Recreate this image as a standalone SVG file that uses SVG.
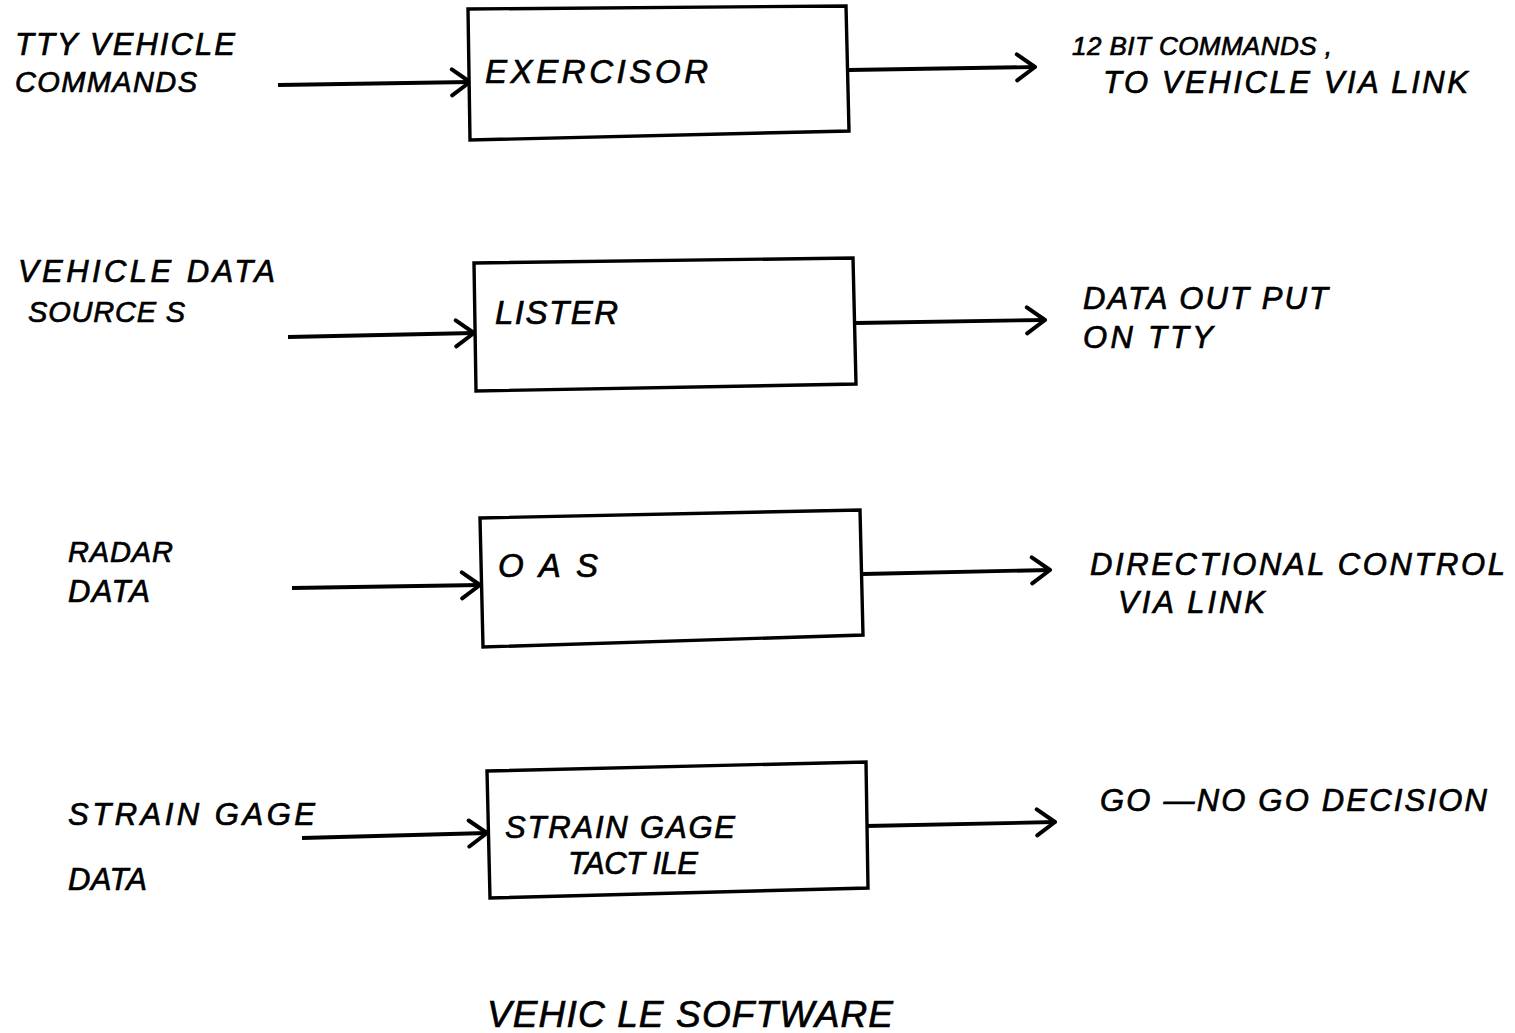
<svg xmlns="http://www.w3.org/2000/svg" width="1515" height="1033" viewBox="0 0 1515 1033">
<style>
text{font-family:"Liberation Sans",Arial,sans-serif;font-style:italic;font-size:31px;fill:#000;stroke:#000;stroke-width:0.7}
.box{fill:#fff;stroke:#000;stroke-width:3.4}
.ln{fill:none;stroke:#000;stroke-width:3.8;marker-end:url(#ah)}
.big{font-size:33px}
.title{font-size:37px}
.sm{font-size:26px}
.cmp{font-size:29px}
</style>
<defs>
<marker id="ah" markerUnits="userSpaceOnUse" viewBox="0 0 24 32" markerWidth="24" markerHeight="32" refX="21" refY="16" orient="auto">
<path d="M3,3 L21,16 L3,29" fill="none" stroke="#000" stroke-width="4" stroke-linecap="round" stroke-linejoin="round"/>
</marker>
</defs>
<rect width="1515" height="1033" fill="#fff"/>
<g id="connectors">
<path class="ln" d="M278,85 L470,82"/>
<path class="ln" d="M849,70 L1035,67"/>
<path class="ln" d="M288,337 L474,333"/>
<path class="ln" d="M856,323 L1045,320"/>
<path class="ln" d="M292,588 L480,585"/>
<path class="ln" d="M863,574 L1050,570"/>
<path class="ln" d="M302,838 L487,833"/>
<path class="ln" d="M866,826 L1055,822"/>
</g>
<g id="n-exercisor">
<path class="box" d="M468,9 L846,6 L849,131 L470,140 Z"/>
<text class="big" x="485" y="83" textLength="223" lengthAdjust="spacing">EXERCISOR</text>
</g>
<g id="n-lister">
<path class="box" d="M474,263 L853,258 L856,384 L476,391 Z"/>
<text class="big" x="495" y="324" textLength="123" lengthAdjust="spacing">LISTER</text>
</g>
<g id="n-oas">
<path class="box" d="M480,518 L860,510 L863,635 L483,647 Z"/>
<text class="big" x="498" y="577" textLength="100" lengthAdjust="spacing">O A S</text>
</g>
<g id="n-strain">
<path class="box" d="M487,771 L866,762 L868,888 L490,898 Z"/>
<text x="505" y="838" textLength="230" lengthAdjust="spacing">STRAIN GAGE</text>
<text x="568" y="874" textLength="130" lengthAdjust="spacing">TACT ILE</text>
</g>
<g id="in-tty">
<text x="15" y="55" textLength="220" lengthAdjust="spacing">TTY VEHICLE</text>
<text class="cmp" x="15" y="92" textLength="182" lengthAdjust="spacing">COMMANDS</text>
</g>
<g id="out-12bit">
<text class="sm" x="1072" y="55" textLength="260" lengthAdjust="spacing">12 BIT COMMANDS ,</text>
<text x="1103" y="93" textLength="365" lengthAdjust="spacing">TO VEHICLE VIA LINK</text>
</g>
<g id="in-vds">
<text x="18" y="282" textLength="257" lengthAdjust="spacing">VEHICLE DATA</text>
<text class="cmp" x="28" y="322" textLength="157" lengthAdjust="spacing">SOURCE S</text>
</g>
<g id="out-data">
<text x="1083" y="309" textLength="245" lengthAdjust="spacing">DATA OUT PUT</text>
<text x="1083" y="348" textLength="130" lengthAdjust="spacing">ON TTY</text>
</g>
<g id="in-radar">
<text class="cmp" x="68" y="562" textLength="105" lengthAdjust="spacing">RADAR</text>
<text x="68" y="602" textLength="82" lengthAdjust="spacing">DATA</text>
</g>
<g id="out-dir">
<text x="1090" y="575" textLength="415" lengthAdjust="spacing">DIRECTIONAL CONTROL</text>
<text x="1118" y="613" textLength="147" lengthAdjust="spacing">VIA LINK</text>
</g>
<g id="in-strain">
<text x="68" y="825" textLength="247" lengthAdjust="spacing">STRAIN GAGE</text>
<text x="68" y="890" textLength="79" lengthAdjust="spacing">DATA</text>
</g>
<g id="out-go">
<text x="1100" y="811" textLength="387" lengthAdjust="spacing">GO —NO GO DECISION</text>
</g>
<text class="title" x="487" y="1027" textLength="406" lengthAdjust="spacing">VEHIC LE SOFTWARE</text>
</svg>
